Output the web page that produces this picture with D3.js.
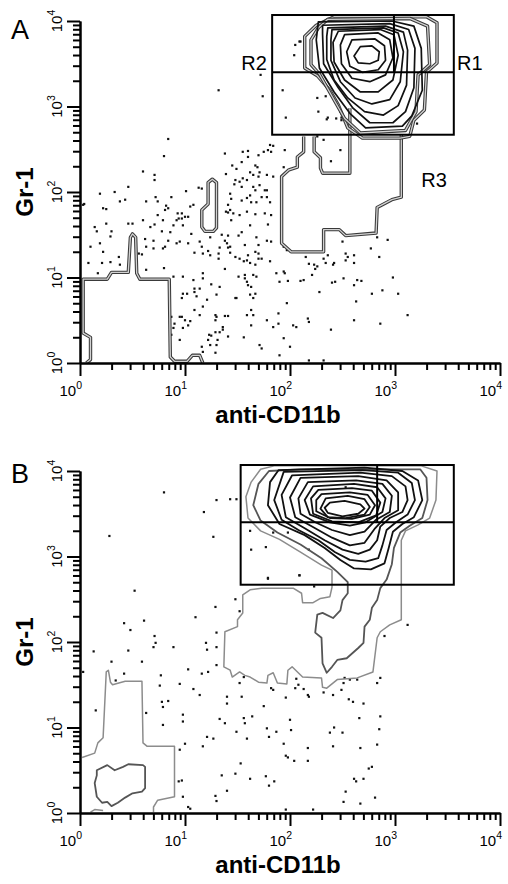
<!DOCTYPE html>
<html>
<head>
<meta charset="utf-8">
<script src="https://cdn.jsdelivr.net/npm/d3@7"></script>
<style>
  body { margin: 0; background: #fff; }
  svg { display: block; font-family: Arial, "Liberation Sans", Helvetica, sans-serif; }
</style>
</head>
<body>
<svg id="chart" width="508" height="884"></svg>
<script>
// all values are in decades (log10 of the fluorescence)
var decades = [1, 10, 100, 1000, 10000];
var exponents = ["0", "1", "2", "3", "4"];

// ---- panel A ----
var dotsA = [
  [1.32,3.19],[0.46,2.06],[0.33,2.00],[0.19,1.98],[0.38,1.89],[0.43,1.91],[0.22,1.81],[0.25,1.80],[0.04,1.86],
  [0.84,2.62],[0.80,2.42],[0.60,2.24],[0.71,2.20],[0.71,2.14],[0.63,1.89],[0.72,1.94],[0.74,1.89],[0.87,1.94],
  [1.01,2.01],[1.13,2.05],[1.16,2.04],[1.08,1.85],[1.05,1.83],[0.82,1.84],[0.84,1.81],[0.81,1.79],[0.74,1.73],
  [0.79,1.67],[0.71,1.62],[0.67,1.59],[0.60,1.67],[0.89,1.61],[0.92,1.67],[0.94,1.69],[0.97,1.69],[1.00,1.71],
  [1.03,1.71],[0.97,1.75],[0.93,1.75],[0.98,1.61],[0.86,1.53],[0.78,1.54],[1.06,1.51],[1.14,1.42],[1.24,1.47],
  [1.03,1.40],[0.95,1.42],[0.92,1.40],[0.84,1.43],[0.70,1.43],[0.62,1.45],[0.63,1.36],[0.81,1.36],
  [1.38,2.45],[1.39,2.21],[1.45,2.31],[1.49,2.27],[1.55,2.47],[1.60,2.48],[1.60,2.41],[1.54,2.35],[1.67,2.31],
  [1.69,2.29],[1.65,2.20],[1.70,2.18],[1.62,2.23],[1.55,2.16],[1.59,2.14],[1.52,2.12],[1.48,2.14],[1.47,2.09],
  [1.54,2.06],[1.65,2.06],[1.71,2.08],[1.76,2.02],[1.78,1.94],[1.81,1.88],[1.73,1.94],[1.68,1.88],[1.63,1.88],
  [1.62,1.96],[1.59,1.93],[1.54,1.90],[1.43,1.98],[1.44,1.92],[1.41,1.85],[1.39,1.77],[1.41,1.76],[1.43,1.79],
  [1.46,1.75],[1.44,1.67],[1.52,1.73],[1.59,1.77],[1.67,1.74],[1.76,1.75],[1.82,1.73],[1.79,1.62],[1.62,1.61],
  [1.51,1.49],[1.54,1.53],[1.41,1.49],[1.38,1.43],[1.35,1.50],[1.40,1.40],[1.33,1.35],[1.43,1.36],[1.57,1.38],
  [1.68,1.47],[1.78,1.43],[1.82,1.42],[1.70,1.38],[1.70,2.43],[1.75,2.47],[1.79,2.49],[1.81,2.55],[1.84,2.54],
  [1.82,2.47],[1.78,2.20],[1.78,2.02],[1.95,2.49],[1.94,2.29],[1.84,2.18],[1.67,2.02],[1.71,2.23],
  [0.70,1.34],[0.79,1.34],[0.59,1.27],[0.63,1.09],[0.80,1.11],[0.89,1.01],[0.98,1.01],[1.09,1.29],[1.16,1.36],
  [1.17,1.28],[1.22,1.31],[1.24,1.26],[1.32,1.28],[1.32,1.22],[1.41,1.35],[1.43,1.29],[1.48,1.24],[1.38,1.10],
  [1.08,0.97],[1.17,1.05],[1.17,0.99],[1.14,0.87],[1.09,0.87],[1.09,0.83],[1.02,0.81],[0.98,0.81],[0.97,0.76],
  [1.11,0.78],[1.17,0.66],[1.21,0.74],[1.25,0.92],[1.33,0.89],[1.30,0.80],[1.49,0.76],[1.48,0.76],[1.09,0.62],
  [1.05,0.49],[1.03,0.44],[1.00,0.50],[0.98,0.41],[0.97,0.54],[0.95,0.54],[0.90,0.46],[0.89,0.41],[0.87,0.33],
  [0.87,0.54],[0.95,0.27],[1.14,0.56],[1.29,0.56],[1.30,0.54],[1.38,0.55],[1.41,0.55],[1.29,0.50],[1.36,0.42],
  [1.36,0.39],[1.33,0.36],[1.29,0.36],[1.25,0.32],[1.23,0.33],[1.22,0.27],[1.31,0.27],[1.41,0.31],[1.16,0.19],
  [1.17,0.13],[1.24,0.21],[1.30,0.21],[1.29,0.12],[1.52,1.22],[1.56,1.19],[1.59,1.20],[1.60,1.26],[1.62,1.17],
  [1.67,1.15],[1.70,1.22],[1.73,1.22],[1.81,1.19],[1.87,1.05],[1.94,1.07],[1.95,1.05],[1.90,0.95],[1.98,0.96],
  [1.51,1.01],[1.57,1.03],[1.59,0.95],[1.60,0.91],[1.57,0.99],[1.65,1.03],[1.63,0.89],[1.68,1.01],[1.67,0.81],
  [1.62,0.80],[1.65,0.76],[1.63,0.62],[1.65,0.56],[1.59,0.56],[1.63,0.44],[1.56,0.30],[1.71,0.21],[1.73,0.17],
  [1.78,0.50],[1.84,0.42],[1.89,0.58],[1.89,0.46],[1.97,0.70],[1.94,0.29],[2.03,0.44],[2.06,0.42],[1.90,0.09],
  [2.00,0.19],[1.67,1.30],[1.70,1.28],[1.94,1.36],[1.97,1.32],
  [0.03,1.85],[0.14,1.59],[0.16,1.54],[0.10,1.36],[0.19,1.40],[0.25,1.63],[0.29,1.48],[0.30,1.54],[0.22,1.30],
  [0.08,1.17],[0.21,1.17],[0.29,1.18],[0.37,1.24],[0.38,1.15],[0.46,1.63],[0.50,1.63],[0.17,1.05],[0.56,1.28],
  [2.15,1.24],[2.18,1.16],[2.23,1.15],[2.26,1.13],[2.24,1.10],[2.21,1.03],[2.13,0.97],[2.10,0.96],[2.32,1.22],
  [2.34,1.17],[2.36,1.26],[2.41,1.15],[2.42,1.17],[2.43,0.95],[2.40,0.94],[2.50,1.42],[2.53,1.28],[2.55,1.24],
  [2.53,1.20],[2.61,1.26],[2.61,1.17],[2.51,0.99],[2.61,0.91],[2.64,0.97],[2.68,0.96],[2.63,0.72],[2.61,0.50],
  [2.78,0.81],[2.88,0.85],[3.03,0.81],[2.98,1.00],[2.77,1.34],[2.85,1.24],[2.83,1.47],[2.93,1.44],[2.86,0.46],
  [3.12,0.56],[2.17,0.52],[2.18,0.48],[2.39,0.39],[2.28,0.83],[2.18,0.03],[2.32,0.03],
  [2.09,3.76],[2.05,3.72],[2.04,3.60],[1.72,3.37],[1.74,3.12],[1.93,3.19],[2.15,3.45],[2.17,3.43],[2.26,3.10],
  [2.34,3.12],[1.96,2.87],[2.36,2.87],[2.35,2.85],[2.44,2.86],[2.49,2.87],[2.49,2.84],[2.48,2.94],[3.21,2.80],
  [2.27,2.94],[2.26,2.65],[2.32,2.61],[2.48,2.49],[2.39,2.36],[2.10,3.76]
];

var gateA_x = [1.83, 2.99, 3.56];   // left, divider, right
var gateA_y = [2.67, 3.40, 4.07];   // bottom, divider, top

var a_low = [[0.06,0],[0.10,0.04],[0.10,0.30],[0.03,0.35],[0.03,0.98],[0.26,0.98],[0.30,1.06],[0.46,1.06],
  [0.48,1.47],[0.50,1.51],[0.53,1.47],[0.54,1.05],[0.57,0.98],[0.85,0.98],[0.86,0.07],[0.90,0.02],[1.02,0.02],
  [1.07,0.09],[1.14,0.09],[1.17,0]];
var a_finger = [[1.22,2.11],[1.26,2.15],[1.30,2.11],[1.30,1.58],[1.27,1.54],[1.19,1.54],[1.16,1.59],[1.16,1.79],[1.22,1.86]];
var a_r3 = [[3.06,2.67],[3.06,1.94],[2.97,1.91],[2.83,1.82],[2.82,1.52],[2.53,1.49],[2.47,1.56],[2.32,1.56],
  [2.32,1.30],[2.01,1.30],[1.92,1.40],[1.92,2.18],[1.99,2.26],[2.07,2.29],[2.07,2.41],[2.13,2.47],[2.13,2.65]];
var a_u = [[2.23,2.65],[2.23,2.47],[2.29,2.40],[2.29,2.28],[2.31,2.22],[2.57,2.22],[2.57,2.98]];
var a_g1 = [[2.42,4.05],[3.30,4.05],[3.40,3.98],[3.40,3.51],[3.30,3.40],[3.28,2.96],[3.18,2.84],[3.14,2.65],
  [3.05,2.63],[2.69,2.63],[2.55,2.75],[2.46,3.02],[2.38,3.19],[2.26,3.36],[2.14,3.45],[2.14,3.82],[2.25,3.95]];
var a_g2 = [[2.36,4.02],[3.14,4.03],[3.31,3.94],[3.33,3.49],[3.22,3.37],[3.20,2.94],[3.10,2.72],[2.67,2.69],
  [2.52,2.86],[2.40,3.12],[2.28,3.38],[2.20,3.49],[2.20,3.78],[2.27,3.92]];
var a_l8 = [[2.27,3.99],[2.97,4.00],[3.18,3.94],[3.25,3.68],[3.26,3.19],[3.16,2.89],[3.07,2.77],[2.72,2.75],
  [2.57,2.92],[2.42,3.17],[2.28,3.45],[2.25,3.78]];
var a_l7 = [[2.31,3.95],[2.95,3.97],[3.13,3.90],[3.19,3.68],[3.18,3.22],[3.10,2.94],[2.98,2.81],[2.76,2.81],
  [2.60,2.98],[2.46,3.22],[2.32,3.50],[2.31,3.85]];
var a_l6 = [[2.36,3.92],[2.91,3.94],[3.08,3.87],[3.12,3.66],[3.11,3.25],[3.03,3.01],[2.89,2.90],[2.71,2.94],
  [2.55,3.10],[2.42,3.31],[2.35,3.55],[2.35,3.82]];
var a_l5 = [[2.40,3.90],[2.89,3.92],[3.03,3.86],[3.08,3.64],[3.05,3.29],[2.95,3.08],[2.78,3.03],[2.62,3.10],
  [2.48,3.29],[2.39,3.54],[2.39,3.78]];
var a_l4 = [[2.46,3.88],[2.86,3.90],[2.99,3.84],[3.03,3.60],[2.98,3.31],[2.84,3.17],[2.67,3.17],[2.52,3.31],
  [2.42,3.52],[2.41,3.75]];
var a_l3 = [[2.52,3.84],[2.84,3.86],[2.95,3.78],[2.98,3.57],[2.91,3.37],[2.76,3.29],[2.59,3.33],[2.49,3.50],[2.48,3.72]];
var a_l2 = [[2.59,3.78],[2.81,3.79],[2.90,3.71],[2.91,3.54],[2.84,3.43],[2.69,3.40],[2.57,3.47],[2.54,3.64]];
var a_l1 = [[2.67,3.70],[2.78,3.71],[2.85,3.64],[2.84,3.54],[2.76,3.50],[2.65,3.51],[2.61,3.59]];

// ---- panel B ----
var dotsB = [
  [0.80,3.75],[1.30,3.66],[1.43,3.67],[1.49,3.67],[1.18,3.52],[1.27,3.23],[0.28,3.24],[0.52,2.60],[1.29,2.41],
  [1.10,2.29],[1.48,2.50],[1.52,2.36],[0.42,2.22],[0.48,2.14],[0.61,2.25],[0.71,2.07],[0.72,1.99],[0.70,1.94],
  [0.89,1.94],[1.20,1.99],[1.21,1.91],[1.30,1.94],[1.30,2.11],[0.13,1.89],[0.46,1.90],[1.62,3.30],[1.63,3.08],
  [2.53,3.81],[1.84,3.28],[1.98,3.28],[1.77,3.11],[2.18,3.08],[1.79,2.75],[2.09,2.78],[2.23,2.65],[3.12,2.20],
  [2.90,2.07],
  [1.79,2.74],[2.09,2.78],[1.30,1.73],[1.03,1.68],[0.77,1.61],[0.76,1.49],[0.95,1.51],[1.08,1.45],[1.16,1.63],
  [1.22,1.65],[1.14,1.38],[0.78,1.30],[0.84,1.31],[0.79,1.24],[0.98,1.15],[1.40,1.36],[1.40,1.28],[1.54,1.36],
  [1.56,1.59],[1.52,1.52],[1.75,1.25],[1.82,1.46],[1.84,1.44],[1.96,1.35],[2.05,1.46],[2.08,1.50],[2.13,1.45],
  [2.17,1.38],[2.18,1.36],[2.32,1.41],[2.41,1.38],[2.49,1.44],[2.52,1.58],[2.51,1.52],[2.57,1.56],[2.64,1.56],
  [2.56,1.33],[2.60,1.30],[2.70,1.28],[2.83,1.52],[2.86,1.58],[1.33,1.10],[1.56,1.11],[1.64,1.13],[2.00,1.09],
  [2.66,1.11],[2.86,1.13],[2.06,1.57],
  [0.03,1.65],[0.30,1.77],[0.34,1.55],[0.42,1.63],[0.59,1.77],[0.63,1.17],[0.15,1.20],[0.79,1.03],[1.38,1.05],
  [1.49,0.95],[1.57,1.05],[1.59,0.87],[0.98,1.07],[1.00,0.81],[0.95,0.74],[1.21,0.89],[1.27,0.87],[1.17,0.78],
  [1.35,0.44],[1.48,0.46],[1.53,0.58],[1.62,0.40],[1.40,0.26],[0.97,0.38],[0.94,0.37],[0.98,0.19],[1.29,0.20],
  [1.30,0.14],[1.03,0.07],[1.05,0.05],
  [2.85,0.98],[1.78,0.99],[1.80,0.89],[1.87,0.95],[2.01,0.97],[1.94,0.81],[1.96,0.67],[1.98,0.65],[2.04,0.61],
  [2.17,0.76],[2.17,0.61],[2.38,0.94],[2.42,1.00],[2.50,0.94],[2.41,0.78],[2.67,0.76],[2.83,0.80],[2.75,0.52],
  [2.78,0.54],[2.61,0.40],[2.63,0.37],[2.70,0.40],[1.77,0.43],[1.80,0.32],[1.85,0.37],[2.53,0.25],[2.51,0.13],
  [2.67,0.11],[2.81,0.18],[1.96,0.04],[2.22,0.04]
];

var gateB_x = [1.53, 2.83, 3.56];
var gateB_y = [2.67, 3.40, 4.07];

var b_g1 = [[1.72,4.02],[1.85,4.06],[3.25,4.06],[3.40,4.00],[3.39,3.66],[3.33,3.45],[3.22,3.37],[3.10,3.30],
  [3.06,3.19],[3.06,2.26],[2.95,2.20],[2.86,2.12],[2.83,2.05],[2.79,1.65],[2.64,1.58],[2.45,1.56],[2.35,1.46],
  [2.31,1.47],[2.30,1.58],[2.12,1.59],[2.02,1.71],[1.98,1.67],[1.97,1.51],[1.88,1.52],[1.84,1.64],[1.79,1.61],
  [1.78,1.52],[1.70,1.53],[1.62,1.59],[1.57,1.61],[1.52,1.65],[1.45,1.59],[1.43,1.67],[1.37,1.71],[1.38,2.12],
  [1.50,2.18],[1.50,2.26],[1.55,2.34],[1.55,2.55],[1.62,2.61],[1.73,2.63],[2.03,2.63],[2.11,2.57],[2.12,2.46],
  [2.22,2.46],[2.29,2.51],[2.38,2.53],[2.40,2.64],[2.40,2.84],[2.30,2.90],[2.10,3.05],[1.90,3.20],[1.72,3.30],
  [1.60,3.45],[1.58,3.70],[1.63,3.87]];
var b_g2 = [[1.80,4.00],[2.10,4.02],[3.24,4.02],[3.30,3.92],[3.31,3.66],[3.26,3.45],[3.14,3.36],[3.05,3.28],
  [2.99,3.10],[2.97,2.91],[2.92,2.73],[2.86,2.63],[2.83,2.49],[2.78,2.40],[2.76,2.26],[2.71,2.18],[2.70,1.99],
  [2.65,1.93],[2.54,1.81],[2.45,1.79],[2.40,1.71],[2.35,1.64],[2.31,1.75],[2.30,2.05],[2.24,2.11],[2.26,2.32],
  [2.31,2.34],[2.41,2.28],[2.48,2.37],[2.50,2.49],[2.55,2.57],[2.55,2.70],[2.45,2.82],[2.30,2.98],[2.10,3.14],
  [1.88,3.28],[1.72,3.42],[1.65,3.60],[1.70,3.85]];
var b_g3 = [[0.02,0.65],[0.14,0.70],[0.17,0.82],[0.22,0.88],[0.25,1.65],[0.27,1.67],[0.29,1.53],[0.31,1.50],
  [0.43,1.54],[0.59,1.54],[0.60,0.82],[0.64,0.78],[0.90,0.78],[0.90,0.19],[0.74,0.15],[0.70,0.07],[0.70,0.01]];
var b_g3b = [[0.10,0.01],[0.14,0.04],[0.22,0.03]];
var b_g4 = [[0.16,0.50],[0.26,0.56],[0.33,0.50],[0.41,0.54],[0.46,0.57],[0.60,0.56],[0.62,0.54],[0.62,0.29],
  [0.59,0.25],[0.50,0.23],[0.43,0.18],[0.36,0.12],[0.30,0.08],[0.26,0.13],[0.21,0.12],[0.16,0.19],[0.14,0.35],[0.16,0.44]];
var b_l10 = [[1.89,4.01],[2.71,4.04],[3.07,4.00],[3.22,3.89],[3.26,3.66],[3.18,3.46],[3.07,3.38],[2.98,3.29],
  [2.94,3.10],[2.90,2.92],[2.77,2.85],[2.61,2.86],[2.48,2.96],[2.33,3.10],[2.14,3.25],[1.90,3.38],[1.79,3.60],[1.81,3.87]];
var b_l9 = [[1.94,3.99],[2.69,4.01],[3.03,3.98],[3.16,3.86],[3.19,3.66],[3.12,3.49],[3.01,3.40],[2.92,3.31],
  [2.88,3.13],[2.84,2.98],[2.72,2.94],[2.57,2.96],[2.43,3.05],[2.27,3.19],[2.08,3.31],[1.92,3.43],[1.85,3.66]];
var b_l8 = [[2.02,3.95],[2.67,3.98],[2.97,3.94],[3.10,3.82],[3.12,3.66],[3.07,3.52],[2.95,3.45],[2.86,3.35],
  [2.83,3.19],[2.76,3.08],[2.65,3.03],[2.50,3.08],[2.33,3.19],[2.14,3.33],[1.96,3.46],[1.92,3.72]];
var b_l7 = [[2.10,3.92],[2.65,3.94],[2.92,3.89],[3.03,3.75],[3.03,3.54],[2.90,3.45],[2.81,3.33],[2.71,3.16],
  [2.57,3.13],[2.40,3.22],[2.21,3.35],[2.05,3.46],[2.00,3.69]];
var b_l6 = [[2.17,3.87],[2.63,3.89],[2.88,3.85],[2.97,3.71],[2.95,3.52],[2.82,3.43],[2.71,3.29],[2.57,3.25],
  [2.40,3.31],[2.24,3.40],[2.10,3.50],[2.08,3.68]];
var b_l5 = [[2.22,3.82],[2.61,3.85],[2.83,3.81],[2.91,3.68],[2.88,3.52],[2.72,3.40],[2.57,3.36],[2.38,3.40],
  [2.19,3.49],[2.14,3.66]];
var b_l4 = [[2.27,3.78],[2.59,3.80],[2.78,3.77],[2.86,3.63],[2.82,3.48],[2.65,3.40],[2.40,3.41],[2.22,3.50],[2.20,3.68]];
var b_l3 = [[2.30,3.73],[2.57,3.75],[2.74,3.72],[2.81,3.60],[2.76,3.49],[2.59,3.44],[2.38,3.45],[2.25,3.53],[2.25,3.66]];
var b_l2 = [[2.34,3.68],[2.55,3.71],[2.71,3.67],[2.76,3.58],[2.71,3.49],[2.53,3.45],[2.36,3.46],[2.29,3.56]];
var b_l1 = [[2.38,3.63],[2.52,3.65],[2.67,3.61],[2.71,3.56],[2.65,3.50],[2.50,3.47],[2.36,3.51],[2.33,3.57]];

var svg = d3.select("#chart");

function drawPanel(p) {
  var x = d3.scaleLog().domain([1, 1e4]).range([80, 500]);
  var y = d3.scaleLog().domain([1, 1e4]).range([p.bottom, p.top]);
  var fx = function(d) { return x(Math.pow(10, d[0])); };
  var fy = function(d) { return y(Math.pow(10, d[1])); };
  var openLine = d3.line().x(fx).y(fy);
  var closedLine = d3.line().x(fx).y(fy).curve(d3.curveLinearClosed);
  var g = svg.append("g");

  // events
  g.append("g").selectAll("rect").data(p.dots).join("rect")
    .attr("x", function(d) { return fx(d) - 1.1; })
    .attr("y", function(d) { return fy(d) - 1.1; })
    .attr("width", 2.2).attr("height", 2.2)
    .attr("fill", "#111");

  // contour lines
  p.contours.forEach(function(c) {
    var d = (c.closed ? closedLine : openLine)(c.pts);
    if (c.style === "double") {
      g.append("path").attr("d", d).attr("fill", "none")
        .attr("stroke", "#3a3a3a").attr("stroke-width", 3.4).attr("stroke-linejoin", "round");
      g.append("path").attr("d", d).attr("fill", "none")
        .attr("stroke", "#d2d2d2").attr("stroke-width", 1.3).attr("stroke-linejoin", "round");
    } else {
      g.append("path").attr("d", d).attr("fill", "none")
        .attr("stroke", c.color).attr("stroke-width", c.width).attr("stroke-linejoin", "round");
    }
  });

  // R1 / R2 gates
  var gx = p.gateX.map(function(v) { return x(Math.pow(10, v)); });
  var gy = p.gateY.map(function(v) { return y(Math.pow(10, v)); });
  var gate = g.append("g").attr("stroke", "#000").attr("stroke-width", 2).attr("fill", "none");
  gate.append("rect").attr("x", gx[0]).attr("y", gy[2])
    .attr("width", gx[2] - gx[0]).attr("height", gy[0] - gy[2]);
  gate.append("line").attr("x1", gx[0]).attr("x2", gx[2]).attr("y1", gy[1]).attr("y2", gy[1]);
  gate.append("line").attr("x1", gx[1]).attr("x2", gx[1]).attr("y1", gy[2]).attr("y2", gy[1]);

  // axes
  var minor = x.ticks().filter(function(v) { return decades.indexOf(v) < 0; });
  var xa = g.append("g").attr("transform", "translate(0," + p.bottom + ")");
  xa.append("g").call(d3.axisBottom(x).tickValues(minor).tickSize(7).tickFormat("").tickSizeOuter(0));
  xa.append("g").call(d3.axisBottom(x).tickValues(decades).tickSize(13).tickFormat("").tickSizeOuter(0));
  var ya = g.append("g").attr("transform", "translate(80,0)");
  ya.append("g").call(d3.axisLeft(y).tickValues(minor).tickSize(7).tickFormat("").tickSizeOuter(0));
  ya.append("g").call(d3.axisLeft(y).tickValues(decades).tickSize(13).tickFormat("").tickSizeOuter(0));
  g.selectAll(".domain, .tick line").attr("stroke", "#000").attr("stroke-width", 2);

  // tick labels 10^n
  g.selectAll("text.xl").data(decades).join("text").attr("class", "xl")
    .attr("x", function(d) { return x(d) + 2; })
    .attr("y", p.bottom + 33)
    .attr("text-anchor", "end").attr("font-size", 15).attr("fill", "#000")
    .each(function(d, i) {
      var t = d3.select(this);
      t.append("tspan").text("10");
      t.append("tspan").attr("dy", -7).attr("font-size", 10.5).text(exponents[i]);
    });
  g.selectAll("text.yl").data(decades).join("text").attr("class", "yl")
    .attr("transform", function(d) { return "translate(62," + y(d) + ") rotate(-90)"; })
    .attr("text-anchor", "middle").attr("font-size", 15).attr("fill", "#000")
    .each(function(d, i) {
      var t = d3.select(this);
      t.append("tspan").text("10");
      t.append("tspan").attr("dy", -7).attr("font-size", 10.5).text(exponents[i]);
    });

  // axis titles
  g.append("text").attr("x", 278).attr("y", p.bottom + 60)
    .attr("text-anchor", "middle").attr("font-size", 24).attr("font-weight", "bold")
    .text("anti-CD11b");
  g.append("text")
    .attr("transform", "translate(33," + ((p.top + p.bottom) / 2) + ") rotate(-90)")
    .attr("text-anchor", "middle").attr("font-size", 24).attr("font-weight", "bold")
    .text("Gr-1");

  // panel letter
  g.append("text").attr("x", 11).attr("y", p.top + p.letterDy)
    .attr("font-size", 27).text(p.letter);

  // gate names
  (p.gateLabels || []).forEach(function(l) {
    g.append("text").attr("x", x(Math.pow(10, l.at[0]))).attr("y", y(Math.pow(10, l.at[1])))
      .attr("text-anchor", l.anchor).attr("font-size", 20).text(l.name);
  });
}

drawPanel({
  letter: "A", letterDy: 18, top: 21, bottom: 363,
  dots: dotsA, gateX: gateA_x, gateY: gateA_y,
  contours: [
    { pts: a_low, closed: false, style: "double" },
    { pts: a_finger, closed: true, style: "double" },
    { pts: a_r3, closed: false, style: "double" },
    { pts: a_u, closed: false, style: "double" },
    { pts: a_g1, closed: true, style: "double" },
    { pts: a_g2, closed: true, style: "double" },
    { pts: a_l8, closed: true, color: "#111", width: 1.7 },
    { pts: a_l7, closed: true, color: "#111", width: 1.7 },
    { pts: a_l6, closed: true, color: "#111", width: 1.7 },
    { pts: a_l5, closed: true, color: "#111", width: 1.7 },
    { pts: a_l4, closed: true, color: "#111", width: 1.7 },
    { pts: a_l3, closed: true, color: "#111", width: 1.7 },
    { pts: a_l2, closed: true, color: "#111", width: 1.7 },
    { pts: a_l1, closed: true, color: "#111", width: 1.7 }
  ],
  gateLabels: [
    { name: "R2", at: [1.78, 3.43], anchor: "end" },
    { name: "R1", at: [3.59, 3.43], anchor: "start" },
    { name: "R3", at: [3.25, 2.06], anchor: "start" }
  ]
});

drawPanel({
  letter: "B", letterDy: 12, top: 471, bottom: 813,
  dots: dotsB, gateX: gateB_x, gateY: gateB_y,
  contours: [
    { pts: b_g1, closed: true, color: "#8c8c8c", width: 1.5 },
    { pts: b_g3, closed: false, color: "#8c8c8c", width: 1.5 },
    { pts: b_g3b, closed: false, color: "#8c8c8c", width: 1.5 },
    { pts: b_g2, closed: true, color: "#555", width: 1.8 },
    { pts: b_g4, closed: true, color: "#555", width: 1.8 },
    { pts: b_l10, closed: true, color: "#111", width: 1.8 },
    { pts: b_l9, closed: true, color: "#111", width: 1.8 },
    { pts: b_l8, closed: true, color: "#111", width: 1.8 },
    { pts: b_l7, closed: true, color: "#111", width: 1.8 },
    { pts: b_l6, closed: true, color: "#111", width: 1.8 },
    { pts: b_l5, closed: true, color: "#111", width: 1.8 },
    { pts: b_l4, closed: true, color: "#111", width: 1.8 },
    { pts: b_l3, closed: true, color: "#111", width: 1.8 },
    { pts: b_l2, closed: true, color: "#111", width: 1.8 },
    { pts: b_l1, closed: true, color: "#111", width: 1.8 }
  ]
});
</script>
</body>
</html>
